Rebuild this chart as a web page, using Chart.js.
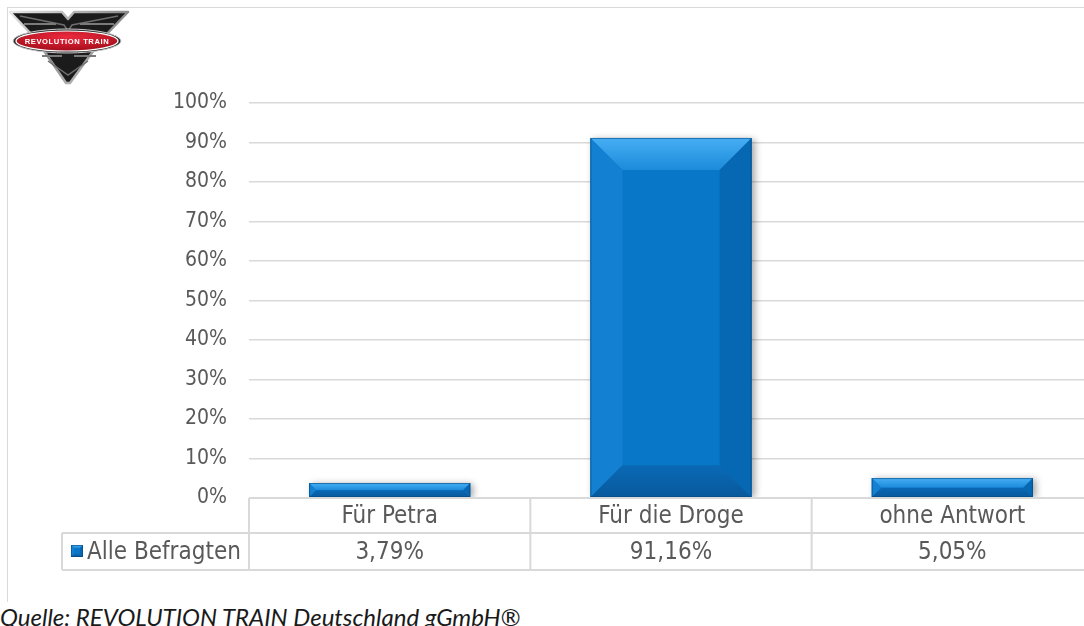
<!DOCTYPE html>
<html lang="de">
<head>
<meta charset="utf-8">
<title>Alle Befragten</title>
<script src="https://cdn.jsdelivr.net/npm/chart.js@4/dist/chart.umd.min.js"></script>
<style>
  html, body { margin: 0; padding: 0; background: #fff; overflow: hidden; }
  #rahmen {
    position: absolute; left: 7px; top: 7px; width: 1200px; height: 598px;
    border-left: 1.5px solid #d9d9d9; border-top: 1.5px solid #d9d9d9;
  }
  #box { position: absolute; left: 0; top: 0; width: 1100px; height: 626px; }
  #logo { position: absolute; left: 8px; top: 9px; }
  #quelle {
    position: absolute; left: 0; top: 602px; line-height: 24px;
    font: italic 24px Lato, "Liberation Sans", sans-serif; color: #1a1a1a;
    background: #fff; padding-right: 4px; white-space: nowrap;
  }
</style>
</head>
<body>
<div id="rahmen"></div>
<div id="box"><canvas id="grafik"></canvas></div>

<svg id="logo" width="124" height="80" viewBox="0 0 124 80">
  <defs>
    <linearGradient id="chrom" x1="0" y1="0" x2="1" y2="1">
      <stop offset="0" stop-color="#e8e8e8"/>
      <stop offset="0.5" stop-color="#8a8a8a"/>
      <stop offset="1" stop-color="#d4d4d4"/>
    </linearGradient>
    <radialGradient id="rot" cx="0.5" cy="0.3" r="0.75">
      <stop offset="0" stop-color="#ec2a3e"/>
      <stop offset="1" stop-color="#a00b18"/>
    </radialGradient>
  </defs>
  <polygon points="2,3 54,3 60,10 66,3 120,3 94,30 62,74 58,74 28,30"
           fill="#1b1b1b" stroke="url(#chrom)" stroke-width="2.5" stroke-linejoin="round"/>
  <polyline points="12,7 56,16 60,22 64,16 110,7" fill="none" stroke="#6d6d6d" stroke-width="1.5"/>
  <line x1="16" y1="15" x2="48" y2="15" stroke="#7a7a7a" stroke-width="2"/>
  <line x1="72" y1="15" x2="106" y2="15" stroke="#7a7a7a" stroke-width="2"/>
  <line x1="34" y1="47" x2="54" y2="47" stroke="#7a7a7a" stroke-width="2"/>
  <line x1="66" y1="47" x2="88" y2="47" stroke="#7a7a7a" stroke-width="2"/>
  <polyline points="40,52 60,66 80,52" fill="none" stroke="#6d6d6d" stroke-width="1.5"/>
  <ellipse cx="59" cy="32" rx="54" ry="12" fill="#2a2a2a" stroke="#c8c8c8" stroke-width="1"/>
  <ellipse cx="59" cy="32" rx="51" ry="10" fill="url(#rot)" stroke="#ffffff" stroke-width="1.2"/>
  <text x="59" y="35" text-anchor="middle" fill="#ffffff"
        font-family="Liberation Sans, Arial, sans-serif" font-size="7.6" font-weight="bold"
        letter-spacing="0.6">REVOLUTION TRAIN</text>
</svg>

<div id="quelle">Quelle: REVOLUTION TRAIN Deutschland gGmbH®</div>

<script>
// Umfragewerte
const kategorien = ['Für Petra', 'Für die Droge', 'ohne Antwort'];
const werte = [3.79, 91.16, 5.05];
const reihe = 'Alle Befragten';
const achseMax = 100;
const achseSchritt = 10;

const grau = '#595959';
const linie = '#d9d9d9';
const blau = '#0877c8';
const schrift = '"DejaVu Sans Condensed", "DejaVu Sans", sans-serif';

Chart.defaults.font.family = schrift;
Chart.defaults.font.size = 21;
Chart.defaults.color = grau;

const prozent = v =>
  v.toLocaleString('de-DE', { minimumFractionDigits: 2, maximumFractionDigits: 2 }) + '%';

function flaeche(ctx, punkte, farbe) {
  ctx.beginPath();
  ctx.moveTo(punkte[0][0], punkte[0][1]);
  for (let i = 1; i < punkte.length; i++) ctx.lineTo(punkte[i][0], punkte[i][1]);
  ctx.closePath();
  ctx.fillStyle = farbe;
  ctx.fill();
}

// abgeschrägte Kanten auf ein Rechteck legen
function fasenZeichnen(ctx, l, t, r, b, maxFase) {
  const f = Math.min(maxFase, (b - t) / 2, (r - l) / 2);
  const oben = ctx.createLinearGradient(0, t, 0, t + f);
  oben.addColorStop(0, '#47aef4');
  oben.addColorStop(1, '#1c8bda');
  const unten = ctx.createLinearGradient(0, b - f, 0, b);
  unten.addColorStop(0, '#0a69b5');
  unten.addColorStop(1, '#08599c');
  flaeche(ctx, [[l, t], [r, t], [r - f, t + f], [l + f, t + f]], oben);
  flaeche(ctx, [[l, t], [l + f, t + f], [l + f, b - f], [l, b]], '#1380d2');
  flaeche(ctx, [[r, t], [r, b], [r - f, b - f], [r - f, t + f]], '#0667b3');
  flaeche(ctx, [[l, b], [l + f, b - f], [r - f, b - f], [r, b]], unten);
  ctx.strokeStyle = 'rgba(5,70,125,0.6)';
  ctx.lineWidth = 1;
  ctx.strokeRect(l + 0.5, t + 0.5, r - l - 1, b - t - 1);
}

const balkenFasen = {
  id: 'balkenFasen',
  beforeDatasetsDraw(chart) {
    const ctx = chart.ctx;
    ctx.save();
    ctx.shadowColor = 'rgba(0,0,0,0.35)';
    ctx.shadowBlur = 7;
    ctx.shadowOffsetX = 3;
    ctx.shadowOffsetY = 1;
  },
  afterDatasetsDraw(chart) {
    const ctx = chart.ctx;
    ctx.restore();
    chart.getDatasetMeta(0).data.forEach(bar => {
      const { x, y, base, width } = bar.getProps(['x', 'y', 'base', 'width'], true);
      fasenZeichnen(ctx, x - width / 2, y, x + width / 2, base, 32);
    });
  }
};

// Datentabelle unter der Achse
const datentabelle = {
  id: 'datentabelle',
  afterDraw(chart) {
    const ctx = chart.ctx;
    const xs = chart.scales.x;
    const area = chart.chartArea;
    const y0 = area.bottom;
    const y1 = y0 + 35;
    const y2 = y1 + 37;
    const legL = 62;
    const schritt = xs.getPixelForValue(1) - xs.getPixelForValue(0);
    const rechts = xs.getPixelForValue(kategorien.length - 1) + schritt / 2;

    ctx.save();
    ctx.strokeStyle = linie;
    ctx.lineWidth = 2;
    ctx.beginPath();
    ctx.moveTo(area.left, y0); ctx.lineTo(rechts, y0);
    ctx.moveTo(legL, y1); ctx.lineTo(rechts, y1);
    ctx.moveTo(legL, y2); ctx.lineTo(rechts, y2);
    ctx.moveTo(legL, y1); ctx.lineTo(legL, y2);
    for (let i = 0; i <= kategorien.length; i++) {
      const gx = xs.getPixelForValue(i) - schritt / 2;
      ctx.moveTo(gx, y0); ctx.lineTo(gx, y2);
    }
    ctx.stroke();

    ctx.fillStyle = grau;
    ctx.font = '24px ' + schrift;
    ctx.textAlign = 'center';
    ctx.textBaseline = 'middle';
    kategorien.forEach((k, i) => {
      const cx = xs.getPixelForValue(i);
      ctx.fillText(k, cx, (y0 + y1) / 2 + 1);
      ctx.fillText(prozent(werte[i]), cx, (y1 + y2) / 2 + 1);
    });

    // Legendensymbol und Reihenname
    ctx.fillStyle = blau;
    ctx.fillRect(71, 545, 12, 12);
    fasenZeichnen(ctx, 71, 545, 83, 557, 3);
    ctx.textAlign = 'left';
    ctx.fillStyle = grau;
    ctx.fillText(reihe, 87, (y1 + y2) / 2 + 1);
    ctx.restore();
  }
};

new Chart(document.getElementById('grafik'), {
  type: 'bar',
  data: {
    labels: kategorien,
    datasets: [{
      label: reihe,
      data: werte,
      backgroundColor: blau,
      borderWidth: 0,
      categoryPercentage: 1,
      barPercentage: 0.573
    }]
  },
  options: {
    responsive: true,
    maintainAspectRatio: false,
    animation: false,
    layout: { padding: { top: 103, right: 7, bottom: 0, left: 0 } },
    plugins: { legend: { display: false }, tooltip: { enabled: false } },
    scales: {
      x: {
        ticks: { display: false },
        grid: { display: false },
        border: { display: false },
        afterFit(scale) { scale.height = 128; }
      },
      y: {
        min: 0,
        max: achseMax,
        ticks: { stepSize: achseSchritt, padding: 22, callback: v => v + '%' },
        grid: { color: linie, lineWidth: 1.5, drawTicks: false },
        border: { display: false },
        afterFit(scale) { scale.width = 249; }
      }
    }
  },
  plugins: [balkenFasen, datentabelle]
});
</script>
</body>
</html>
